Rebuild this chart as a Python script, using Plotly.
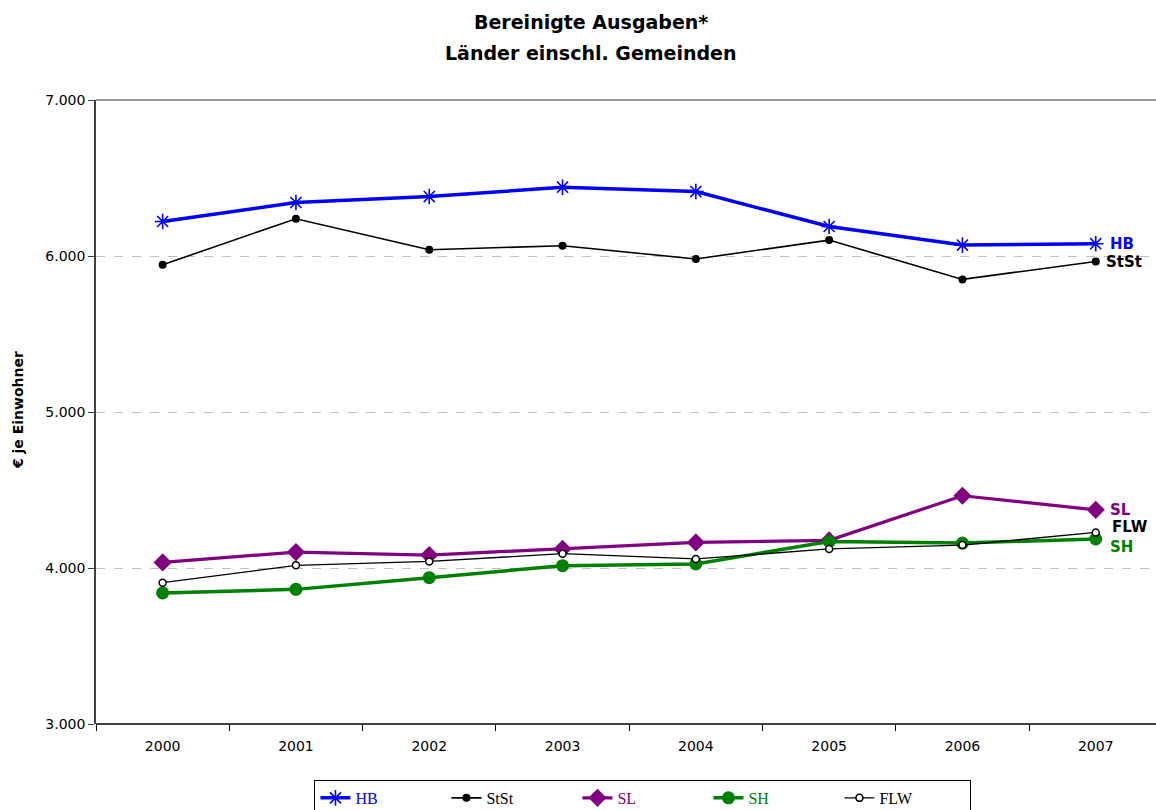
import plotly.graph_objects as go

years = ["2000", "2001", "2002", "2003", "2004", "2005", "2006", "2007"]
hb = [6221, 6343, 6381, 6441, 6413, 6189, 6070, 6079]
stst = [5944, 6239, 6040, 6066, 5981, 6102, 5850, 5965]
sl = [4036, 4102, 4083, 4122, 4164, 4177, 4463, 4373]
sh = [3840, 3863, 3938, 4015, 4026, 4170, 4160, 4186]
flw = [3906, 4017, 4042, 4092, 4058, 4122, 4147, 4228]

BLUE = "#0000FF"
PURPLE = "#800080"
GREEN = "#008000"
BLACK = "#000000"

fig = go.Figure()
fig.add_trace(go.Scatter(
    x=years, y=hb, mode="lines+markers", name='<span style="color:#0000FF">HB</span>',
    line=dict(color=BLUE, width=3.5),
    marker=dict(symbol="asterisk-open", size=13, line=dict(color=BLUE, width=1.6), color=BLUE)))
fig.add_trace(go.Scatter(
    x=years, y=stst, mode="lines+markers", name="StSt",
    line=dict(color=BLACK, width=1.6),
    marker=dict(symbol="circle", size=8, color=BLACK)))
fig.add_trace(go.Scatter(
    x=years, y=sl, mode="lines+markers", name='<span style="color:#800080">SL</span>',
    line=dict(color=PURPLE, width=3.2),
    marker=dict(symbol="diamond", size=14, color=PURPLE)))
fig.add_trace(go.Scatter(
    x=years, y=sh, mode="lines+markers", name='<span style="color:#008000">SH</span>',
    line=dict(color=GREEN, width=3.5),
    marker=dict(symbol="circle", size=13, color=GREEN)))
fig.add_trace(go.Scatter(
    x=years, y=flw, mode="lines+markers", name="FLW",
    line=dict(color=BLACK, width=1.3),
    marker=dict(symbol="circle", size=7, color="white", line=dict(color=BLACK, width=1.5))))

# end labels (x given as category index of the last year)
last_idx = len(years) - 1
end_labels = [
    ("HB", hb[-1], BLUE, 12, 0),
    ("StSt", stst[-1], BLACK, 8, -1),
    ("SL", sl[-1], PURPLE, 12, 0),
    ("FLW", flw[-1], BLACK, 14, 5),
    ("SH", sh[-1], GREEN, 12, -8),
]
for txt, val, col, xs, ys in end_labels:
    fig.add_annotation(x=last_idx, y=val, text="<b>%s</b>" % txt, showarrow=False,
                       xanchor="left", yanchor="middle", xshift=xs, yshift=ys,
                       font=dict(family="DejaVu Sans", size=15, color=col))

# titles
fig.add_annotation(xref="paper", yref="paper", x=0.467, y=1.125, text="<b>Bereinigte Ausgaben*</b>",
                   showarrow=False, xanchor="center", yanchor="middle",
                   font=dict(family="DejaVu Sans", size=19, color="black"))
fig.add_annotation(xref="paper", yref="paper", x=0.467, y=1.0753, text="<b>Länder einschl. Gemeinden</b>",
                   showarrow=False, xanchor="center", yanchor="middle",
                   font=dict(family="DejaVu Sans", size=19, color="black"))
fig.add_annotation(xref="paper", yref="paper", x=-0.0736, y=0.503, text="<b>€ je Einwohner</b>",
                   showarrow=False, textangle=-90, xanchor="center", yanchor="middle",
                   font=dict(family="DejaVu Sans", size=14, color="black"))

# top border line and bottom axis line drawn in paper coordinates
fig.add_shape(type="line", xref="paper", yref="paper", x0=0, x1=1.02, y0=1, y1=1,
              line=dict(color="#999999", width=2), layer="below")
fig.add_shape(type="line", xref="paper", yref="paper", x0=0, x1=1.02, y0=0, y1=0,
              line=dict(color="black", width=1.5), layer="above")

fig.update_layout(
    width=1156, height=810,
    margin=dict(l=96, r=0, t=100, b=86, autoexpand=False),
    paper_bgcolor="white", plot_bgcolor="white",
    separators=",.",
    showlegend=True,
    legend=dict(orientation="h", x=0.516, y=-0.0897, xanchor="center", yanchor="top",
                bordercolor="black", borderwidth=1,
                font=dict(family="Liberation Serif", size=16, color="black"),
                entrywidth=86, entrywidthmode="pixels", itemclick=False),
    font=dict(family="DejaVu Sans", size=14, color="black"),
)
fig.update_xaxes(type="category", range=[-0.5, 7.452], showgrid=False,
                 showline=False,
                 ticks="outside", ticklen=6, tickcolor="black", tickson="boundaries",
                 ticklabelstandoff=12, zeroline=False,
                 tickfont=dict(family="DejaVu Sans", size=14, color="black"))
fig.update_yaxes(range=[3000, 7000], dtick=1000, tickformat=",d",
                 showgrid=True, gridcolor="#C0C0C0", griddash="dash", gridwidth=1,
                 showline=True, linecolor="#404040", linewidth=1.5,
                 ticks="outside", ticklen=6, tickcolor="#404040", zeroline=False,
                 tickfont=dict(family="DejaVu Sans", size=14, color="black"))

fig.write_html(
    "out.html", config={"displayModeBar": False, "responsive": False},
    post_script=("document.body.style.margin='0';"
                 "document.body.style.overflow='hidden';"
                 "document.documentElement.style.overflow='hidden';"))
